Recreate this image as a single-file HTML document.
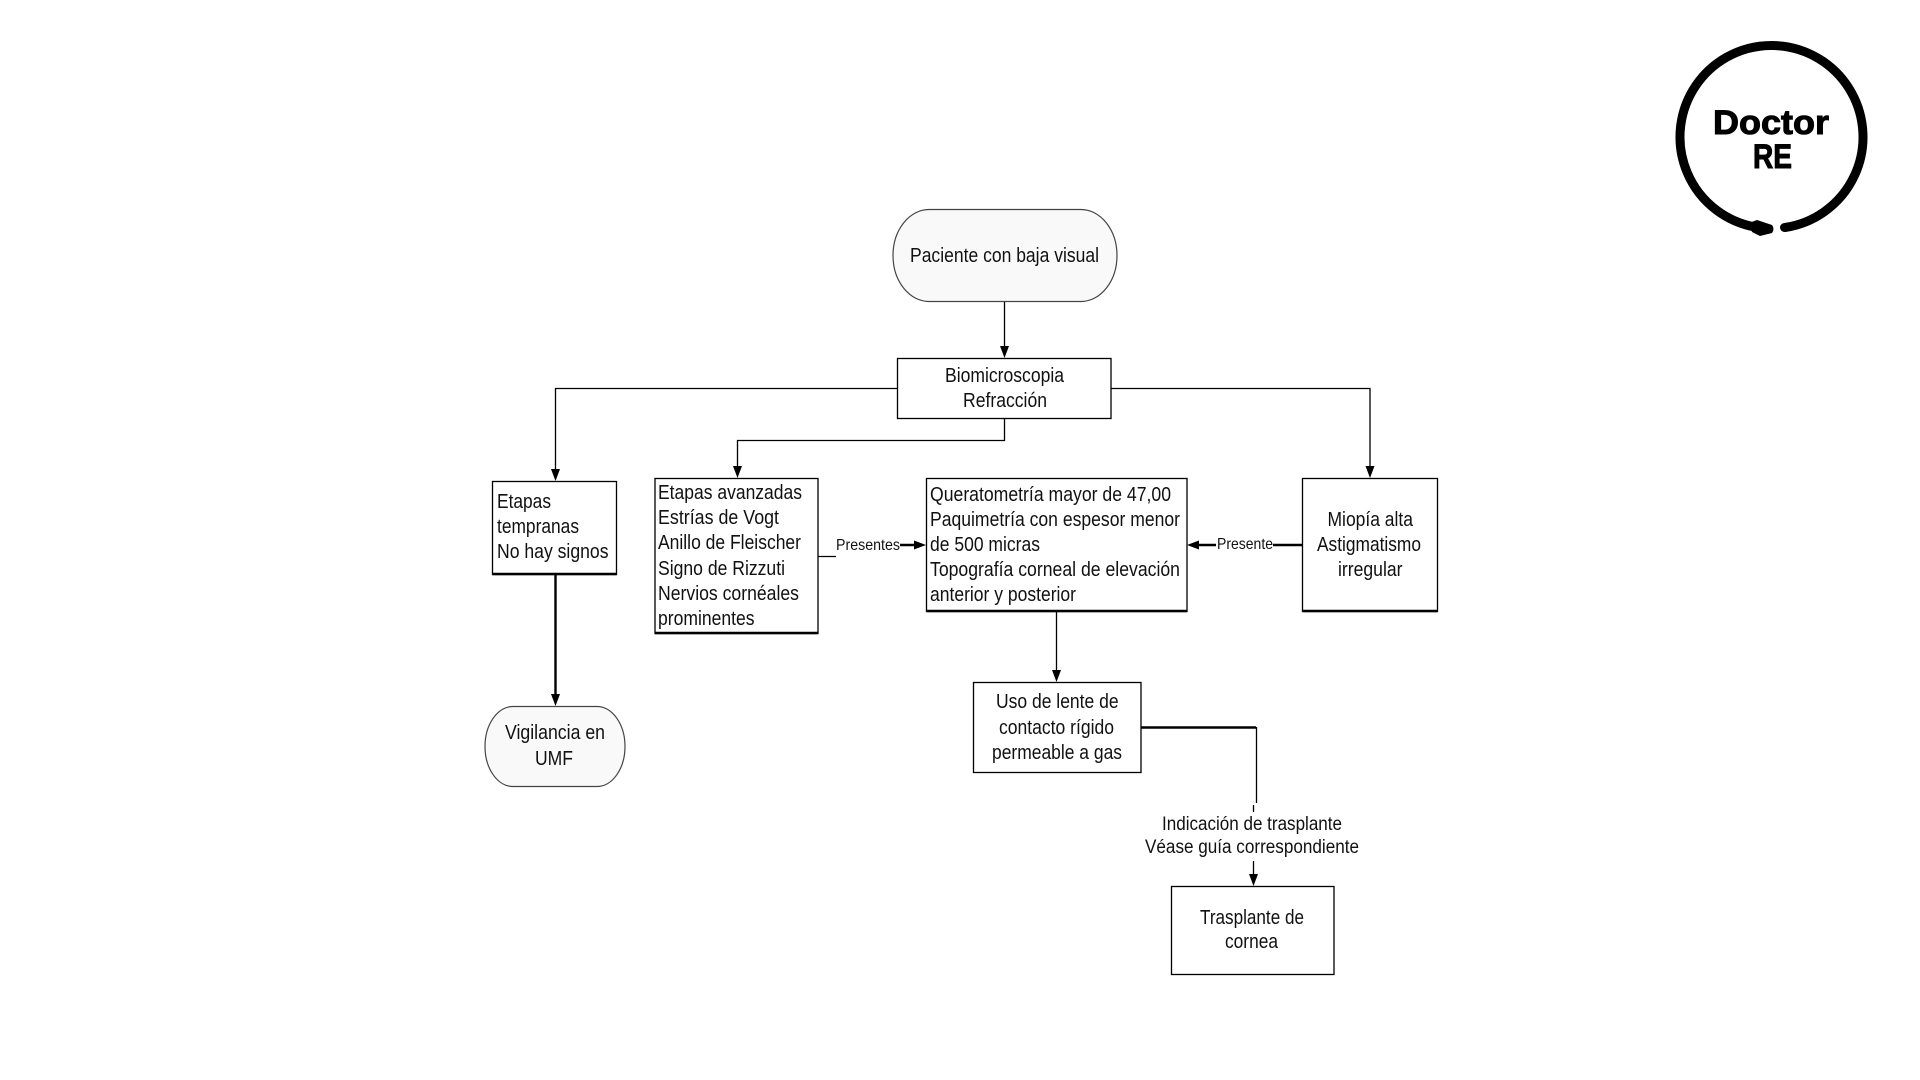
<!DOCTYPE html>
<html lang="es">
<head>
<meta charset="utf-8">
<title>Diagrama de flujo</title>
<style>
html,body{margin:0;padding:0;background:#fff;width:1920px;height:1080px;overflow:hidden}
svg{display:block}
text{font-family:"Liberation Sans",sans-serif;font-size:20px;fill:#111}
.s{font-size:16px}
.m{font-size:19px}
.box{fill:#fff;stroke:#000;stroke-width:1.3}
.pill{fill:#f9f9f9;stroke:#444;stroke-width:1.2}
.ln{fill:none;stroke:#000;stroke-width:1.3}
.th{fill:none;stroke:#000;stroke-width:2.4}
.ah{fill:#000;stroke:none}
.logo{font-size:34px;font-weight:bold;fill:#000;stroke:#000;stroke-width:1}
</style>
</head>
<body>
<svg width="1920" height="1080" viewBox="0 0 1920 1080" xmlns="http://www.w3.org/2000/svg">
<rect width="1920" height="1080" fill="#fff"/>

<!-- Logo -->
<path d="M1785 227.500A91.500 91.500 0 1 0 1755 227" fill="none" stroke="#000" stroke-width="9"/>
<path d="M1785 227.500l-.5 0" fill="none" stroke="#000" stroke-width="9" stroke-linecap="round"/>
<path d="M1749 223L1757 220L1772 225Q1775 229 1772 233L1760 236L1752 232Z" fill="#000"/>
<text class="logo" x="1713" y="134" textLength="116" lengthAdjust="spacingAndGlyphs">Doctor</text>
<text class="logo" x="1753" y="168" textLength="39" lengthAdjust="spacingAndGlyphs">RE</text>

<!-- Connectors -->
<path class="ln" d="M1004.500 301V347"/>
<path class="ln" d="M897 388.500H555.500V470"/>
<path class="th" d="M555.500 574V695"/>
<path class="ln" d="M1004.500 418V440.500H737.500V467"/>
<path class="ln" d="M1111 388.500H1370V467"/>
<path class="ln" d="M818 556.500H836"/>
<path class="th" d="M900 545H917"/>
<path class="th" d="M1197 545H1216"/>
<path class="th" d="M1273 545H1302"/>
<path class="ln" d="M1056.500 611V671"/>
<path class="th" d="M1141 727.500H1256"/>
<path class="ln" d="M1256.500 727V803"/>
<path class="ln" d="M1253.500 805V812"/>
<path class="ln" d="M1253.500 861V875"/>

<!-- Arrowheads -->
<path class="ah" d="M1000 346H1009L1004.500 358Z"/>
<path class="ah" d="M551 469H560L555.500 481Z"/>
<path class="ah" d="M551 694H560L555.500 706Z"/>
<path class="ah" d="M733 466H742L737.500 478Z"/>
<path class="ah" d="M1365.500 466H1374.500L1370 478Z"/>
<path class="ah" d="M1052 670H1061L1056.500 682Z"/>
<path class="ah" d="M1249 874H1258L1253.500 886Z"/>
<path class="ah" d="M914 540.500V549.500L926 545Z"/>
<path class="ah" d="M1199 540.500V549.500L1187 545Z"/>

<!-- Nodes -->
<rect class="pill" x="893" y="209.500" width="224" height="92" rx="36" ry="46"/>
<rect class="box" x="897.500" y="358.500" width="213.500" height="60"/>
<rect class="box" x="492.500" y="481.500" width="124" height="93"/>
<path class="th" d="M492.500 574H616.500"/>
<rect class="box" x="655" y="478.500" width="163" height="155"/>
<path class="th" d="M655 633H818"/>
<rect class="box" x="926.500" y="478.500" width="260.500" height="133"/>
<path class="th" d="M926.500 611H1187"/>
<rect class="box" x="1302.500" y="478.500" width="135" height="133"/>
<path class="th" d="M1302.500 611H1437.500"/>
<rect class="box" x="973.500" y="682.500" width="167.500" height="90"/>
<rect class="pill" x="485" y="706.500" width="140" height="80" rx="28" ry="40"/>
<rect class="box" x="1171.500" y="886.500" width="162.500" height="88"/>

<!-- Labels -->
<text x="910" y="262" textLength="189" lengthAdjust="spacingAndGlyphs">Paciente con baja visual</text>
<text x="945" y="382" textLength="119" lengthAdjust="spacingAndGlyphs">Biomicroscopia</text>
<text x="963" y="407" textLength="84" lengthAdjust="spacingAndGlyphs">Refracción</text>

<text x="497" y="508" textLength="54" lengthAdjust="spacingAndGlyphs">Etapas</text>
<text x="497" y="533" textLength="82" lengthAdjust="spacingAndGlyphs">tempranas</text>
<text x="497" y="558" textLength="111.500" lengthAdjust="spacingAndGlyphs">No hay signos</text>

<text x="658" y="499" textLength="144" lengthAdjust="spacingAndGlyphs">Etapas avanzadas</text>
<text x="658" y="524" textLength="121" lengthAdjust="spacingAndGlyphs">Estrías de Vogt</text>
<text x="658" y="549" textLength="143" lengthAdjust="spacingAndGlyphs">Anillo de Fleischer</text>
<text x="658" y="575" textLength="127" lengthAdjust="spacingAndGlyphs">Signo de Rizzuti</text>
<text x="658" y="600" textLength="141" lengthAdjust="spacingAndGlyphs">Nervios cornéales</text>
<text x="658" y="625" textLength="96.500" lengthAdjust="spacingAndGlyphs">prominentes</text>

<text x="930" y="501" textLength="241" lengthAdjust="spacingAndGlyphs">Queratometría mayor de 47,00</text>
<text x="930" y="526" textLength="250" lengthAdjust="spacingAndGlyphs">Paquimetría con espesor menor</text>
<text x="930" y="551" textLength="110" lengthAdjust="spacingAndGlyphs">de 500 micras</text>
<text x="930" y="576" textLength="250" lengthAdjust="spacingAndGlyphs">Topografía corneal de elevación</text>
<text x="930" y="601" textLength="146" lengthAdjust="spacingAndGlyphs">anterior y posterior</text>

<text x="1327.500" y="526" textLength="85.500" lengthAdjust="spacingAndGlyphs">Miopía alta</text>
<text x="1317" y="551" textLength="104" lengthAdjust="spacingAndGlyphs">Astigmatismo</text>
<text x="1338" y="576" textLength="64.500" lengthAdjust="spacingAndGlyphs">irregular</text>

<text x="996" y="708" textLength="122.600" lengthAdjust="spacingAndGlyphs">Uso de lente de</text>
<text x="999" y="734" textLength="115" lengthAdjust="spacingAndGlyphs">contacto rígido</text>
<text x="992" y="759" textLength="130" lengthAdjust="spacingAndGlyphs">permeable a gas</text>

<text class="s" x="836" y="550" textLength="64" lengthAdjust="spacingAndGlyphs">Presentes</text>
<text class="s" x="1217" y="549" textLength="56" lengthAdjust="spacingAndGlyphs">Presente</text>

<text x="505" y="739" textLength="100" lengthAdjust="spacingAndGlyphs">Vigilancia en</text>
<text x="535" y="765" textLength="38" lengthAdjust="spacingAndGlyphs">UMF</text>

<text class="m" x="1162" y="830" textLength="180" lengthAdjust="spacingAndGlyphs">Indicación de trasplante</text>
<text class="m" x="1145" y="853" textLength="214" lengthAdjust="spacingAndGlyphs">Véase guía correspondiente</text>

<text x="1200" y="924" textLength="104" lengthAdjust="spacingAndGlyphs">Trasplante de</text>
<text x="1225" y="948" textLength="53" lengthAdjust="spacingAndGlyphs">cornea</text>
</svg>
</body>
</html>
